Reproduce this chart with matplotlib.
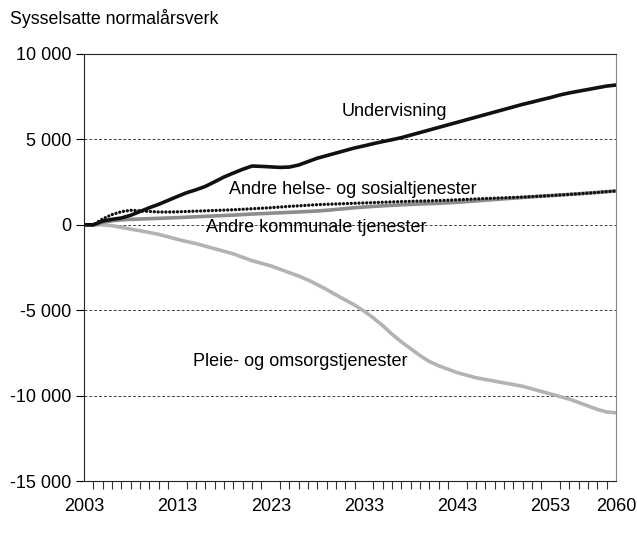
import matplotlib.pyplot as plt
from matplotlib.ticker import FuncFormatter, MultipleLocator

plt.rcParams['font.family'] = ['Liberation Sans', 'DejaVu Sans']

years = list(range(2003, 2061))

undervisning = [0, 0, 220, 320, 400, 560, 780, 1000, 1200, 1430,
                1660, 1880, 2050, 2250, 2520, 2800, 3030, 3250, 3440, 3420,
                3390, 3360, 3380, 3500, 3700, 3900, 4050, 4200, 4350, 4500,
                4620, 4750, 4870, 4980, 5100, 5250, 5400, 5550, 5700, 5850,
                6000, 6150, 6300, 6450, 6600, 6750, 6900, 7050, 7180, 7320,
                7450, 7600, 7720, 7820, 7920, 8020, 8120, 8180]

helse_sosial = [0, 0, 350, 600, 770, 850, 820, 780, 750, 750,
                760, 780, 800, 820, 840, 860, 880, 910, 940, 970,
                1000, 1040, 1080, 1110, 1145, 1180, 1200, 1220, 1240, 1260,
                1280, 1300, 1320, 1340, 1360, 1375, 1390, 1405, 1420, 1440,
                1465, 1490, 1515, 1540, 1560, 1580, 1600, 1620, 1650, 1680,
                1710, 1745, 1780, 1815, 1855, 1895, 1940, 1980]

kommunale = [0, 0, 150, 230, 290, 320, 340, 360, 380, 400,
             420, 445, 470, 495, 520, 545, 570, 600, 630, 655,
             680, 705, 730, 755, 780, 810, 850, 900, 950, 1000,
             1040, 1080, 1110, 1140, 1170, 1195, 1220, 1240, 1260, 1290,
             1320, 1360, 1400, 1440, 1480, 1520, 1560, 1600, 1640, 1675,
             1710, 1745, 1780, 1815, 1855, 1895, 1940, 1980]

pleie = [0, 0, 0, -50, -150, -250, -350, -450, -560, -700,
         -850, -980, -1100, -1250, -1400, -1550, -1700, -1900, -2100, -2250,
         -2400, -2600, -2800, -3000, -3230, -3500, -3790, -4100, -4400, -4700,
         -5050, -5450, -5900, -6400, -6850, -7250, -7650, -8000, -8250, -8450,
         -8650, -8800, -8950, -9050, -9150, -9250, -9350, -9450, -9600, -9750,
         -9900, -10050, -10200, -10400, -10600, -10800, -10950, -11000]

x_ticks = [2003, 2013, 2023, 2033, 2043, 2053, 2060]
y_ticks = [-15000, -10000, -5000, 0, 5000, 10000]

fig = plt.figure(figsize=(6.37, 5.34), dpi=100)
ax = fig.add_axes([0.132, 0.099, 0.835, 0.8])

# gridlines
for y in [-10000, -5000, 0, 5000]:
    ax.axhline(y, color='#444444', linestyle=(0, (3, 2)), linewidth=0.7, zorder=1)

ax.plot(years, pleie, color='#b3b3b3', linewidth=2.6, zorder=2)
ax.plot(years, kommunale, color='#8c8c8c', linewidth=2.6, zorder=3)
ax.plot(years, helse_sosial, color='#111111', linewidth=2.4, linestyle=(0, (0.01, 1.15)),
        dash_capstyle='round', zorder=4)
ax.plot(years, undervisning, color='#111111', linewidth=2.6, zorder=5)

ax.set_xlim(2003, 2060)
ax.set_ylim(-15000, 10000)
ax.set_xticks(x_ticks)
ax.xaxis.set_minor_locator(MultipleLocator(1))
ax.set_yticks(y_ticks)
ax.yaxis.set_major_formatter(FuncFormatter(lambda v, p: f'{int(v):,}'.replace(',', ' ')))

ax.tick_params(axis='x', which='both', direction='out', length=6, width=0.8,
               color='#333333', labelsize=13, pad=12)
ax.tick_params(axis='x', which='major', length=0)
ax.tick_params(axis='y', which='major', direction='out', length=6, width=0.8,
               labelsize=13, pad=3)

for side in ['left', 'bottom', 'top']:
    ax.spines[side].set_color('#222222')
ax.spines['right'].set_color('#888888')

# series labels
ax.text(2036.3, 6650, 'Undervisning', fontsize=13, ha='center', va='center')
ax.text(2031.8, 2080, 'Andre helse- og sosialtjenester', fontsize=13, ha='center', va='center')
ax.text(2027.9, -150, 'Andre kommunale tjenester', fontsize=13, ha='center', va='center')
ax.text(2026.2, -8000, 'Pleie- og omsorgstjenester', fontsize=13, ha='center', va='center')

fig.text(0.016, 0.966, 'Sysselsatte normalårsverk', fontsize=12.8, ha='left', va='center')

fig.savefig('out.png', dpi=100)
